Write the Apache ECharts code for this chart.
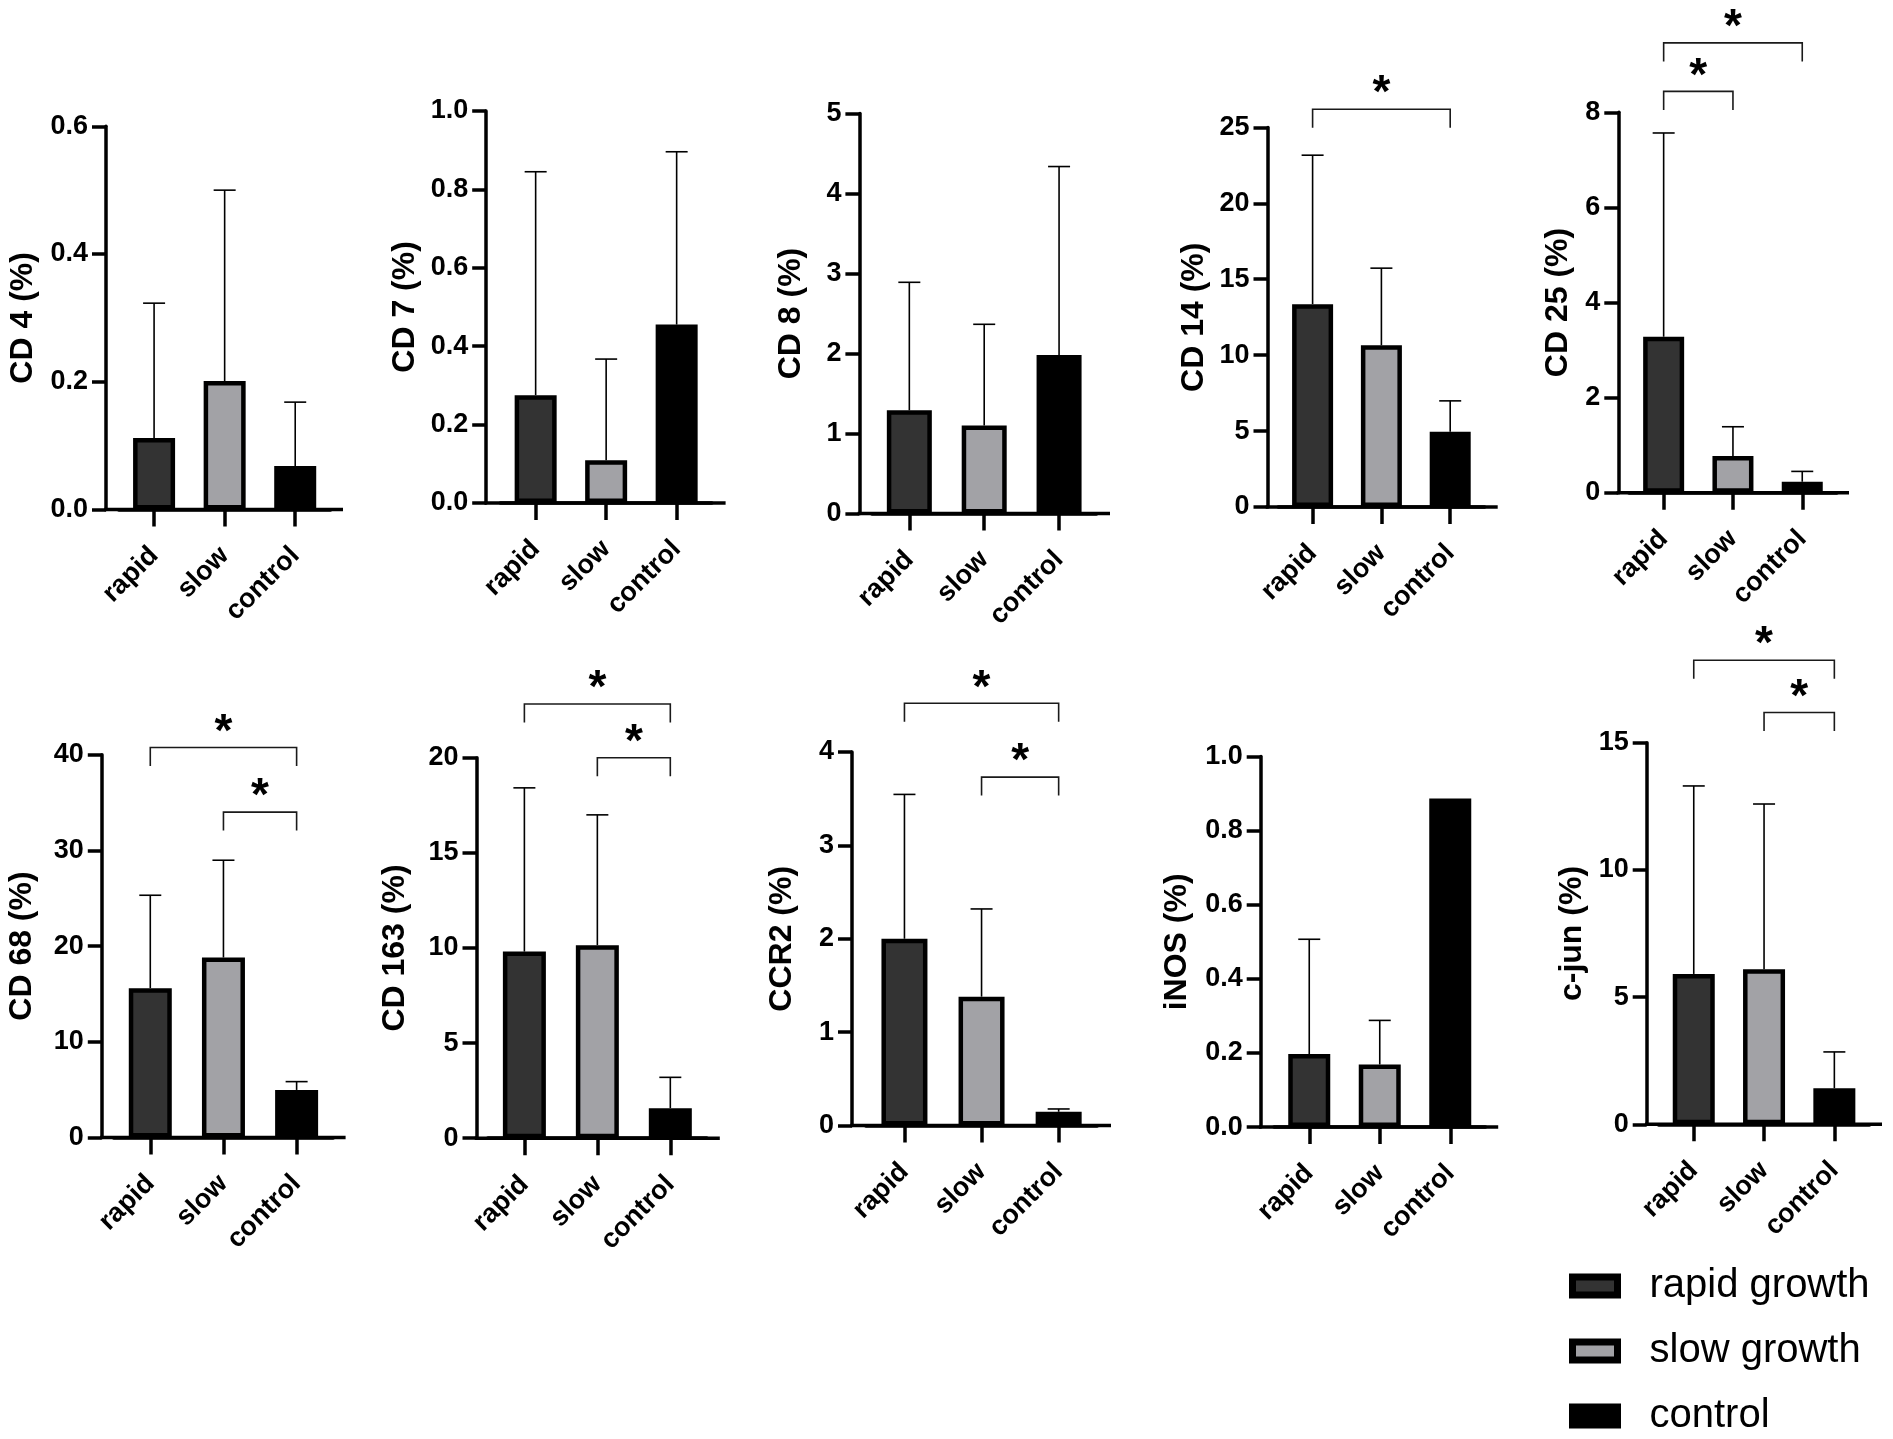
<!DOCTYPE html>
<html>
<head>
<meta charset="utf-8">
<script src="https://cdn.jsdelivr.net/npm/echarts@6/dist/echarts.min.js"></script>
<style>
  html, body { margin: 0; background: #fff; }
  #chart { width: 1893px; height: 1439px; }
</style>
</head>
<body>
<div id="chart"></div>
<script>
const FONT = "'Liberation Sans', Arial, Helvetica, sans-serif";

const groups = ['rapid', 'slow', 'control'];
const groupNames = ['rapid growth', 'slow growth', 'control'];
const groupColors = ['#333333', '#a2a2a6', '#000000'];

const titles = ['CD 4 (%)', 'CD 7 (%)', 'CD 8 (%)', 'CD 14 (%)', 'CD 25 (%)',
                'CD 68 (%)', 'CD 163 (%)', 'CCR2 (%)', 'iNOS (%)', 'c-jun (%)'];
const yMax = [0.6, 1.0, 5, 25, 8, 40, 20, 4, 1.0, 15];
const yStep = [0.2, 0.2, 1, 5, 2, 10, 5, 1, 0.2, 5];
const yDecimals = [1, 1, 0, 0, 0, 0, 0, 0, 1, 0];

// mean per group (rapid, slow, control)
const means = [
  [0.112, 0.201, 0.068],
  [0.275, 0.109, 0.455],
  [1.29, 1.10, 1.98],
  [13.36, 10.65, 4.95],
  [3.28, 0.77, 0.23],
  [15.6, 18.8, 4.96],
  [9.81, 10.15, 1.58],
  [2.00, 1.38, 0.148],
  [0.197, 0.169, 0.887],
  [5.91, 6.09, 1.42]
];
// upper error (SD)
const sds = [
  [0.211, 0.299, 0.100],
  [0.570, 0.258, 0.441],
  [1.60, 1.265, 2.357],
  [9.81, 5.08, 2.04],
  [4.285, 0.617, 0.218],
  [9.71, 10.17, 0.87],
  [8.61, 6.85, 1.62],
  [1.545, 0.939, 0.030],
  [0.310, 0.119, 0],
  [7.39, 6.50, 1.425]
];

// significance brackets: panel, from group, to group, bracket level (axis units)
const sigPanel = [3, 4, 4, 5, 5, 6, 6, 7, 7, 9, 9];
const sigFrom  = [0, 0, 0, 0, 1, 0, 1, 0, 1, 0, 1];
const sigTo    = [2, 1, 2, 2, 2, 2, 2, 2, 2, 2, 2];
const sigLevel = [26.2, 8.44, 9.46, 40.75, 34.0, 22.83, 20.0, 4.52, 3.73, 18.24, 16.19];

// panel layout in px: y-axis x, plot top, baseline, x-axis end, band left, band width, name gap
const layout = [
  [106.0, 126.3, 509.4, 343.0, 118.8, 211.7, 67],
  [486.2, 111.0, 502.9, 725.6, 500.4, 211.5, 65],
  [859.4, 113.5, 513.5, 1110.0, 871.9, 224.6, 52],
  [1267.5, 127.4, 507.0, 1497.7, 1278.2, 206.4, 57],
  [1618.3, 112.3, 492.7, 1849.0, 1629.0, 207.9, 44],
  [101.8, 754.7, 1137.4, 345.6, 113.7, 219.5, 64],
  [476.5, 757.8, 1138.2, 719.8, 487.9, 218.9, 65],
  [852.0, 751.9, 1125.6, 1111.0, 865.9, 231.3, 54],
  [1260.7, 756.6, 1127.1, 1498.2, 1274.0, 211.5, 68],
  [1646.7, 742.7, 1124.3, 1882.0, 1658.6, 210.9, 59]
];

const chart = echarts.init(document.getElementById('chart'));

function errorItem(params, api) {
  const i = api.value(0), m = api.value(1), hi = api.value(2);
  if (!(hi > m)) return;
  const a = api.coord([i, m]);
  const b = api.coord([i, hi]);
  const half = 11;
  return {
    type: 'group',
    children: [
      { type: 'line', shape: { x1: a[0], y1: a[1], x2: b[0], y2: b[1] }, style: { stroke: '#000', lineWidth: 1.6 } },
      { type: 'line', shape: { x1: b[0] - half, y1: b[1], x2: b[0] + half, y2: b[1] }, style: { stroke: '#000', lineWidth: 1.6 } }
    ]
  };
}

function bracketItem(params, api) {
  const lvl = api.value(2);
  const a = api.coord([api.value(0), lvl]);
  const b = api.coord([api.value(1), lvl]);
  const drop = 18.5;
  return {
    type: 'group',
    children: [
      { type: 'polyline',
        shape: { points: [[a[0], a[1] + drop], [a[0], a[1]], [b[0], b[1]], [b[0], b[1] + drop]] },
        style: { stroke: '#1a1a1a', lineWidth: 1.6, fill: null } },
      { type: 'text', x: (a[0] + b[0]) / 2, y: a[1] - 14.5,
        style: { text: '*', fontSize: 46, fontWeight: 'bold', fontFamily: FONT, fill: '#000', align: 'center', verticalAlign: 'middle' } }
    ]
  };
}

const grids = [], xAxes = [], yAxes = [], series = [], graphics = [];

layout.forEach((L, p) => {
  const [axisX, top, base, xEnd, bandLeft, bandW, nameGap] = L;
  const step = bandW / 3;
  const bw = Math.round(step * 0.655 - 4.5);

  grids.push({ left: bandLeft, top: top, width: bandW, height: base - top });

  xAxes.push({
    type: 'category', gridIndex: p, data: groups,
    axisLine: { show: true, onZero: false, lineStyle: { color: '#000', width: 3.5 } },
    axisTick: { show: true, alignWithLabel: true, length: 17, lineStyle: { color: '#000', width: 3.5 } },
    axisLabel: { interval: 0, rotate: 45, fontSize: 27, fontWeight: 'bold', color: '#000', margin: 42, fontFamily: FONT },
    splitLine: { show: false }
  });

  yAxes.push({
    type: 'value', gridIndex: p, min: 0, max: yMax[p], interval: yStep[p],
    offset: bandLeft - axisX,
    name: titles[p], nameLocation: 'middle', nameGap: nameGap,
    nameTextStyle: { fontSize: 32, fontWeight: 'bold', color: '#000', fontFamily: FONT },
    axisLine: { show: true, onZero: false, lineStyle: { color: '#000', width: 3.5 } },
    axisTick: { show: true, length: 14, lineStyle: { color: '#000', width: 3.5 } },
    axisLabel: { fontSize: 27, fontWeight: 'bold', color: '#000', margin: 18, fontFamily: FONT,
                 formatter: v => v.toFixed(yDecimals[p]) },
    splitLine: { show: false }
  });

  groups.forEach((g, gi) => {
    series.push({
      type: 'bar', name: groupNames[gi], xAxisIndex: p, yAxisIndex: p,
      barWidth: bw, barGap: '-100%',
      data: groups.map((_, i) => (i === gi ? means[p][i] : '-')),
      itemStyle: { color: groupColors[gi], borderColor: '#000', borderWidth: 4.5 },
      emphasis: { disabled: true }, z: 2
    });
  });

  series.push({
    type: 'custom', xAxisIndex: p, yAxisIndex: p, renderItem: errorItem, clip: false, z: 3,
    encode: { x: 0, y: [1, 2] },
    data: groups.map((_, i) => [i, means[p][i], means[p][i] + sds[p][i]])
  });

  const br = [];
  sigPanel.forEach((sp, k) => { if (sp === p) br.push([sigFrom[k], sigTo[k], sigLevel[k]]); });
  if (br.length) {
    series.push({
      type: 'custom', xAxisIndex: p, yAxisIndex: p, renderItem: bracketItem, clip: false, z: 3,
      encode: { x: [0, 1], y: 2 },
      data: br
    });
  }

  // baseline extends from the y axis to past the last bar
  graphics.push({
    type: 'line', z: 5,
    shape: { x1: axisX - 1.75, y1: base, x2: xEnd, y2: base },
    style: { stroke: '#000', lineWidth: 3.5 }
  });
});

chart.setOption({
  animation: false,
  backgroundColor: '#fff',
  textStyle: { fontFamily: FONT },
  grid: grids,
  xAxis: xAxes,
  yAxis: yAxes,
  series: series,
  graphic: graphics,
  legend: {
    orient: 'vertical', left: 1569, top: 1266, padding: 0,
    data: groupNames, icon: 'rect',
    itemWidth: 45, itemHeight: 18, itemGap: 25,
    itemStyle: { borderColor: '#000', borderWidth: 7 },
    textStyle: { fontSize: 40, color: '#000', fontFamily: FONT, lineHeight: 40, padding: [0, 0, 0, 27] },
    selectedMode: false
  }
});
</script>
</body>
</html>
